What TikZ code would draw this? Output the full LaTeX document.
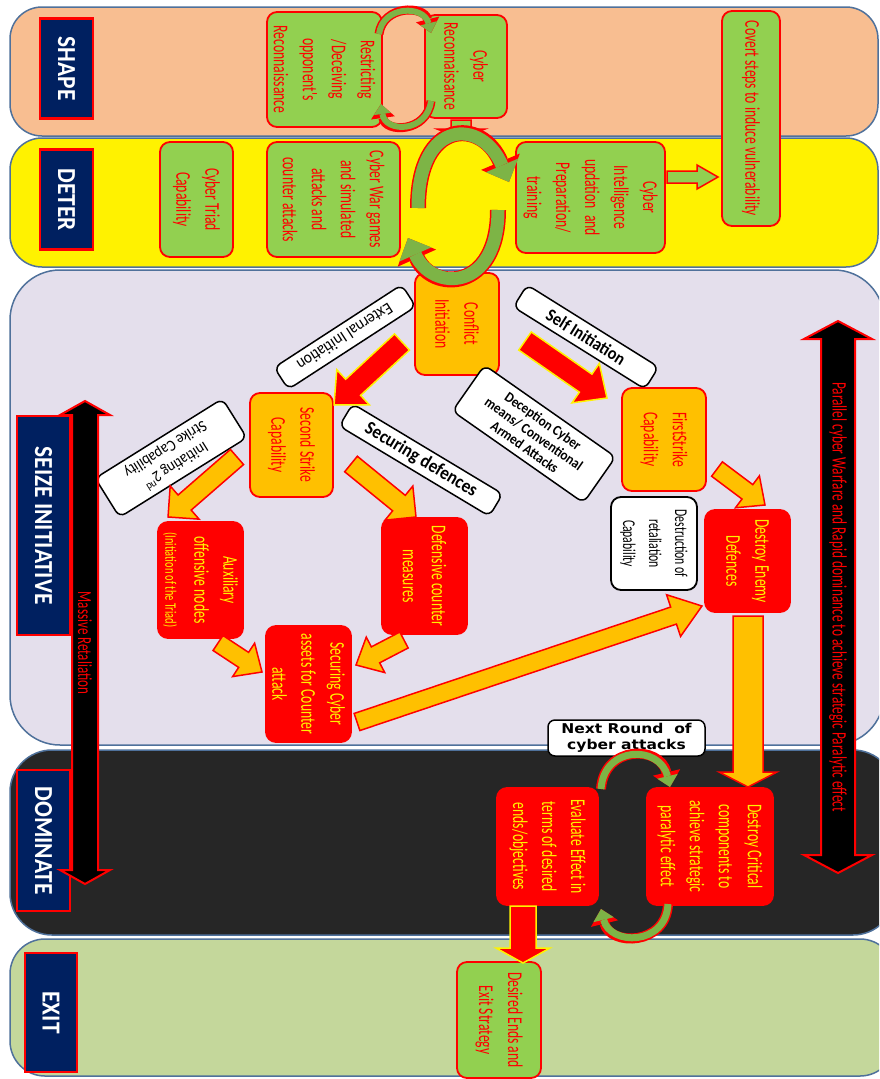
\documentclass[tikz,border=0pt]{standalone}
\usepackage{fontspec}
\setmainfont{Carlito}
\newfontfamily\cnd[FakeStretch=0.65]{Carlito}
\newfontfamily\lbl[FakeStretch=0.9]{Carlito}
\newfontfamily\angf[FakeStretch=0.9]{Carlito}
\newfontfamily\dvs[FakeStretch=1.15]{DejaVu Sans}
\usetikzlibrary{arrows.meta,calc}
\definecolor{peach}{RGB}{248,190,145}
\definecolor{lav}{RGB}{228,223,236}
\definecolor{darkb}{RGB}{38,38,38}
\definecolor{olive}{RGB}{196,215,155}
\definecolor{navy}{RGB}{0,32,96}
\definecolor{lgreen}{RGB}{146,208,80}
\definecolor{cgreen}{RGB}{125,180,70}
\definecolor{orng}{RGB}{255,192,0}
\definecolor{bandb}{RGB}{79,113,155}
\newcommand\blockarr[7]{%
 \path let \p1=#3, \p2=#4 in \pgfextra{\pgfmathsetmacro\tmpa{atan2(\y2-\y1,\x2-\x1)}\pgfmathsetmacro\tmpl{veclen(\x2-\x1,\y2-\y1)}\xdef\baang{\tmpa}\xdef\balen{\tmpl}};
 \begin{scope}[shift={#3},rotate=\baang]
 \filldraw[fill=#1,draw=#2,line width=1.5pt,line join=miter]
 (0,-#5) -- ({\balen-#7},-#5) -- ({\balen-#7},-#6) -- (\balen,0) -- ({\balen-#7},#6) -- ({\balen-#7},#5) -- (0,#5) -- cycle;
 \end{scope}}
\tikzset{
 band/.style={draw=bandb, line width=1.5pt},
 vbox/.style={rounded corners=10pt, line width=1.8pt, draw=red, rotate=-90, align=center, inner sep=2pt, font=\cnd\fontsize{21}{29}\selectfont},
 gbox/.style={vbox, fill=lgreen, text=red},
 obox/.style={vbox, fill=orng, text=red},
 rbox/.style={vbox, fill=red, text=yellow},
 sz/.style 2 args={minimum width=#1pt, minimum height=#2pt},
 lab/.style={fill=navy, draw=red, line width=2.5pt, rotate=-90, text=white, inner sep=0pt, font=\lbl\bfseries\fontsize{26}{30}\selectfont},
 tag/.style={draw=black, fill=white, rounded corners=7pt, line width=1.5pt, align=center, inner sep=1pt, text=black},
}
\begin{document}
\begin{tikzpicture}[x=1pt,y=-1pt]
\useasboundingbox (0,0) rectangle (879,1079);
\clip (0,0) rectangle (879,1079);
\fill[white] (0,0) rectangle (879,1079);
% bands
\draw[band, fill=peach, rounded corners=32pt] (10,7) rectangle (878,136);
\draw[band, fill=yellow, rounded corners=32pt] (10,138) rectangle (878,267);
\draw[band, fill=lav, rounded corners=50pt] (10,270) rectangle (884,745);
\draw[band, fill=darkb, rounded corners=42pt] (10,750) rectangle (895,935);
\draw[band, fill=olive, rounded corners=35pt] (10,939) rectangle (895,1076);
% labels
\node[lab, minimum width=100pt, minimum height=53pt] (lshape) at (66.5,68.5) {SHAPE};
\node[lab, minimum width=100pt, minimum height=53pt] (ldeter) at (66.5,199.5) {DETER};
\node[lab, minimum width=219pt, minimum height=53pt] (lseize) at (43.5,525.5) {SEIZE INITIATIVE};
\node[lab, minimum width=141pt, minimum height=53pt] (ldom) at (43.5,840.5) {DOMINATE};
\node[lab, minimum width=119pt, minimum height=52pt] (lexit) at (51,1012.5) {EXIT};
% boxes
\node[gbox, sz={115}{115}] (restr) at (324.5,69.5) {Restricting\\/Deceiving\\opponent's\\Reconnaissance};
\node[gbox, sz={103}{82}] (crecon) at (466,66.5) {Cyber\\Reconnaissance};
\node[gbox, sz={215}{58}] (covert) at (751,118.5) {Covert steps to induce vulnerability};
\node[gbox, sz={115}{73}] (triad) at (196.5,199.5) {Cyber Triad\\Capability};
\node[gbox, sz={115}{133}] (wargames) at (333.5,199.5) {Cyber War games\\and simulated\\attacks and\\counter attacks};
\node[gbox, sz={111}{149}] (intel) at (590.5,197.5) {Cyber\\Intelligence\\updation\ \ and\\Preparation/\\training};
\node[obox, sz={102}{84}] (conflict) at (457,324) {Conflict\\Initiation};
\node[obox, sz={104}{83}] (second) at (291.5,445) {Second Strike\\Capability};
\node[obox, sz={103}{84}] (first) at (664,439.5) {FirstStrike\\Capability};
\node[rbox, sz={102}{85}] (destroyE) at (747.5,561) {Destroy Enemy\\Defences};
\node[vbox, fill=white, draw=black, text=black, sz={93}{86}, font=\cnd\fontsize{18}{26}\selectfont] (destruct) at (654,543.5) {Destruction of\\retaliation\\Capability};
\node[rbox, sz={116}{85}] (defens) at (424.5,576) {Defensive counter\\measures};
\node[rbox, sz={116}{85}] (aux) at (200.5,580) {Auxiliary\\offensive nodes\\{\fontsize{16}{20}\selectfont(Initiation of the Triad)}};
\node[rbox, sz={116}{85}] (secure) at (308.5,684) {Securing Cyber\\assets for Counter\\attack};
\node[rbox, sz={117}{126}] (destroyC) at (710,846.5) {Destroy Critical\\components to\\achieve strategic\\paralytic effect};
\node[rbox, sz={117}{101}] (evaluate) at (547.5,846.5) {Evaluate Effect in\\terms of desired\\ends/objectives};
\node[gbox, sz={116}{84}] (desired) at (499,1020) {Desired Ends and\\Exit Strategy};
\node[tag, minimum width=157pt, minimum height=36pt, font=\dvs\bfseries\fontsize{13.5}{16}\selectfont] (nextround) at (626.5,738) {Next Round\ \ of\\cyber attacks};
% angled tags
\node[tag, rotate=-32, minimum width=155pt, minimum height=26pt, font=\angf\bfseries\fontsize{18}{20}\selectfont] (selfinit) at (586,337) {Self Initiation};
\node[tag, rotate=-147, minimum width=152pt, minimum height=26pt, font=\angf\fontsize{17}{20}\selectfont] (extinit) at (345,337) {External Initiation};
\node[tag, rotate=-35, minimum width=160pt, minimum height=56pt, inner sep=0pt, font=\angf\bfseries\fontsize{14.5}{16}\selectfont] (decept) at (534,434) {Deception Cyber\\means/ Conventional\\Armed Attacks};
\node[tag, rotate=-31, minimum width=175pt, minimum height=26pt, font=\angf\bfseries\fontsize{19}{21}\selectfont] (securdef) at (421,460) {Securing defences};
\node[tag, rotate=-148, minimum width=150pt, minimum height=46pt, font=\angf\fontsize{16}{19}\selectfont] (init2nd) at (171,458) {Initiating 2\textsuperscript{nd}\\Strike Capability};
% arrow end points
\coordinate (a1s) at (461,120); \coordinate (a1e) at (461,138);
\coordinate (a2s) at (667,177); \coordinate (a2e) at (718,177);
\coordinate (a3s) at (525,341); \coordinate (a3e) at (607,398);
\coordinate (a4s) at (402,342); \coordinate (a4e) at (334,405);
\coordinate (a5s) at (351,464); \coordinate (a5e) at (416,517);
\coordinate (a6s) at (237,457); \coordinate (a6e) at (168,517);
\coordinate (a7s) at (218,643); \coordinate (a7e) at (262,672);
\coordinate (a8s) at (404,640); \coordinate (a8e) at (356,665);
\coordinate (a9s) at (717,469); \coordinate (a9e) at (765,505);
\coordinate (a10s) at (357,722); \coordinate (a10e) at (702,606);
\coordinate (a11s) at (748,616); \coordinate (a11e) at (748,787);
\coordinate (a12s) at (523,906); \coordinate (a12e) at (523,963);
\blockarr{lgreen}{red}{(a1s)}{(a1e)}{10}{24}{9}
\blockarr{lgreen}{red}{(a2s)}{(a2e)}{6}{12}{21}
\blockarr{red}{yellow}{(a3s)}{(a3e)}{11}{24}{26}
\blockarr{red}{yellow}{(a4s)}{(a4e)}{11}{24}{26}
\blockarr{orng}{red}{(a5s)}{(a5e)}{10}{22}{22}
\blockarr{orng}{red}{(a6s)}{(a6e)}{10}{22}{22}
\blockarr{orng}{red}{(a7s)}{(a7e)}{9}{20}{22}
\blockarr{orng}{red}{(a8s)}{(a8e)}{9}{20}{22}
\blockarr{orng}{red}{(a9s)}{(a9e)}{9}{20}{22}
\blockarr{orng}{red}{(a10s)}{(a10e)}{9}{22}{30}
\blockarr{orng}{red}{(a11s)}{(a11e)}{15}{29}{15}
\blockarr{red}{yellow}{(a12s)}{(a12e)}{13}{27}{15}
% curved loop arrows
\foreach \pth in {{(379,34) .. controls (383,5) and (424,5) .. (431,33)},{(431,101) .. controls (427,133) and (385,133) .. (381,104)}}{
 \draw[red, line width=9pt, -{Triangle[width=24pt,length=14pt,line width=0pt]}] \pth;
 \draw[cgreen, line width=6pt, -{Triangle[width=17pt,length=10pt,line width=0pt]}] \pth;}
\foreach \pth in {{(418,208) .. controls (418,118) and (482,118) .. (509,182)},{(498,210) .. controls (498,292) and (432,292) .. (408,238)}}{
 \draw[red, line width=16pt, -{Triangle[width=42pt,length=22pt,line width=0pt]}] \pth;
 \draw[cgreen, line width=13pt, -{Triangle[width=35pt,length=18pt,line width=0pt]}] \pth;}
\foreach \pth in {{(601,789) .. controls (604,745) and (660,745) .. (670,787)},{(668,904) .. controls (666,946) and (610,946) .. (601,909)}}{
 \draw[red, line width=10pt, -{Triangle[width=28pt,length=15pt,line width=0pt]}] \pth;
 \draw[cgreen, line width=7pt, -{Triangle[width=21pt,length=11pt,line width=0pt]}] \pth;}
% double arrows
\filldraw[fill=black, draw=red, line width=2pt] (85,401) -- (110,415) -- (98,415) -- (98,870) -- (110,870) -- (85,884) -- (60,870) -- (72,870) -- (72,415) -- (60,415) -- cycle;
\node[rotate=-90, text=red, inner sep=0pt, font=\cnd\fontsize{20}{22}\selectfont] (massive) at (85,643) {Massive Retaliation};
\filldraw[fill=black, draw=red, line width=2pt] (838,321) -- (872,339) -- (855,339) -- (855,855) -- (872,855) -- (838,873) -- (804,855) -- (821,855) -- (821,339) -- (804,339) -- cycle;
\node[rotate=-90, text=red, inner sep=0pt, font=\cnd\fontsize{20.5}{23}\selectfont] (parallel) at (838,597) {Parallel cyber Warfare and Rapid dominance to achieve strategic Paralytic effect};
\end{tikzpicture}
\end{document}
